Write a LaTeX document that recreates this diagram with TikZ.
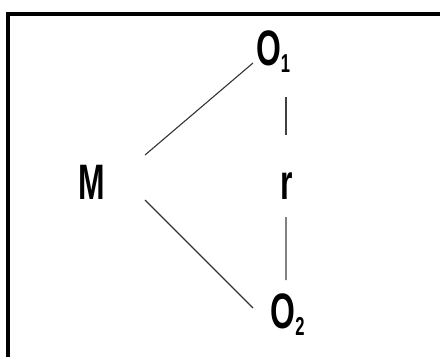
\documentclass[tikz,border=0pt]{standalone}
\usepackage{fontspec}
\setmainfont{Liberation Sans}
\usepackage{tikz}
\usetikzlibrary{calc}
\tikzstyle{fig}=[
  x=1bp,y=-1bp,line cap=butt
]
\tikzstyle{label}=[
  inner sep=0pt,anchor=base west,xscale=0.64,font=\fontsize{50}{50}\selectfont\bfseries
]
\tikzstyle{link}=[
  line width=1.1bp,black!80
]
\tikzstyle{stick}=[
  line width=1.4bp,black!75
]
\tikzstyle{frame}=[
  line width=3.6bp
]
\newcommand{\idx}[1]{\raisebox{-7bp}{\fontsize{26}{26}\selectfont #1}}

\begin{document}
\begin{tikzpicture}[fig]
    \useasboundingbox (0,0) rectangle (440,356);
    \draw [frame] (441,14) -- (8,14) -- (8,357);
      \node (M) at (78,199) [label] {M};
      \node (O1) at (256,65) [label] {O\idx{1}};
      \node (O2) at (270.5,328) [label] {O\idx{2}};
      \node (r) at (280,199) [label] {r};
      \draw [link] ($(M.base west) + (67,-44)$) -- ($(O1.base west) + (-3,-2)$);
      \draw [link] ($(M.base west) + (67,1)$) -- ($(O2.base west) + (-17.5,-20)$);
      \draw [stick] ($(O1.base west) + (30,32)$) -- ($(r.base west) + (6,-64)$);
      \draw [stick] ($(r.base west) + (6,18)$) -- ($(O2.base west) + (15.5,-48)$);
    \end{tikzpicture}
\end{document}
